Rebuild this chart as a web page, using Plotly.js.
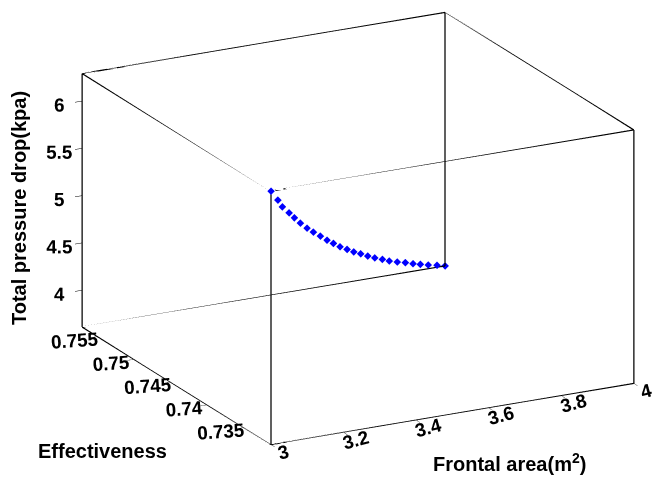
<!DOCTYPE html>
<html><head><meta charset="utf-8">
<script src="https://cdn.plot.ly/plotly-3.0.1.min.js"></script>
<style>html,body{margin:0;padding:0;background:#fff;}#chart{width:652px;height:479px;}</style>
</head><body><div id="chart"></div>
<script>
const frontalArea = [3.00,3.04,3.08,3.12,3.16,3.20,3.24,3.28,3.32,3.36,3.40,3.44,3.48,3.52,3.56,3.60,3.64,3.68,3.72,3.76,3.80,3.84,3.88,3.92,3.96,4.00];
const effectiveness = [0.73125,0.73232,0.73368,0.73474,0.73601,0.73717,0.73824,0.73936,0.74039,0.74146,0.74258,0.74365,0.74468,0.74575,0.74678,0.74781,0.74883,0.74978,0.75081,0.75170,0.75259,0.75352,0.75451,0.75540,0.75619,0.75708];
const pressureDrop = [6.290,6.118,5.955,5.815,5.676,5.538,5.408,5.286,5.168,5.048,4.934,4.821,4.718,4.615,4.519,4.419,4.326,4.238,4.145,4.066,3.990,3.909,3.829,3.753,3.686,3.610];
const xTicks = [3,3.2,3.4,3.6,3.8,4];
const yTicks = [0.735,0.74,0.745,0.75,0.755];
const zTicks = [4,4.5,5,5.5,6];

const xr = [Math.min(...frontalArea), Math.max(...frontalArea)];
const yr = [Math.min(...effectiveness), Math.max(...effectiveness)];
const zr = [Math.min(...pressureDrop), Math.max(...pressureDrop)];

// box edges derived from the axis ranges
const ex=[], ey=[], ez=[];
function seg(a,b){ ex.push(a[0],b[0],null); ey.push(a[1],b[1],null); ez.push(a[2],b[2],null); }
for (const y of yr) for (const z of zr) seg([xr[0],y,z],[xr[1],y,z]);
for (const x of xr) for (const z of zr) seg([x,yr[0],z],[x,yr[1],z]);
for (const x of xr) for (const y of yr) seg([x,y,zr[0]],[x,y,zr[1]]);

const tickFont = {family:'Liberation Sans, Arial, sans-serif', size:15, color:'#000', weight:'bold'};
function ax(range, ticks, ang){
  return {range: range, autorange:false, tickvals: ticks, showgrid:false, zeroline:false,
    showbackground:false, showline:true, mirror:true, linecolor:'#000', linewidth:1,
    ticks:'outside', ticklen:8, tickcolor:'#000', tickwidth:1,
    tickfont: tickFont, tickangle: ang, title:{text:''}, showspikes:false};
}
const data = [
  {type:'scatter3d', mode:'lines', x:ex, y:ey, z:ez, line:{color:'#000', width:2.5}, hoverinfo:'skip', showlegend:false, connectgaps:false},
  {type:'scatter3d', mode:'markers', x:frontalArea, y:effectiveness, z:pressureDrop,
   marker:{symbol:'diamond', size:2.5, color:'#0000ff'}, showlegend:false}
];
const s = 1.708;
const ctr = {x:-0.1254, y:0.0485, z:-0.0434};
const dir = {x:-0.4368, y:-0.839, z:0.3238};
const titleFont = {family:'Liberation Sans, Arial, sans-serif', size:20, weight:'bold', color:'#000'};
const layout = {
  width:652, height:479, margin:{l:0,r:0,t:0,b:0}, paper_bgcolor:'#fff', showlegend:false, hovermode:false,
  scene:{
    domain:{x:[0,1], y:[0,1]},
    aspectmode:'manual', aspectratio:{x:1*s, y:1*s, z:0.655*s},
    camera:{projection:{type:'orthographic'}, center:ctr,
      eye:{x:ctr.x+2*dir.x, y:ctr.y+2*dir.y, z:ctr.z+2*dir.z}, up:{x:0,y:0,z:1}},
    xaxis: ax(xr, xTicks, -15), yaxis: ax(yr, yTicks, -4), zaxis: ax(zr, zTicks, 0)
  },
  annotations:[
    {text:'Total pressure drop(kpa)', textangle:-90, x:19, y:208, showarrow:false, font:titleFont},
    {text:'Effectiveness', x:102, y:451, showarrow:false, font:titleFont},
    {text:'Frontal area(m<sup>2</sup>)', x:509, y:462, showarrow:false, font:titleFont}
  ]
};
layout.annotations.forEach(a=>{ a.xref='paper'; a.yref='paper'; a.x=a.x/652; a.y=1-a.y/479; a.xanchor='center'; a.yanchor='middle'; });
Plotly.newPlot('chart', data, layout, {displayModeBar:false});
</script></body></html>
